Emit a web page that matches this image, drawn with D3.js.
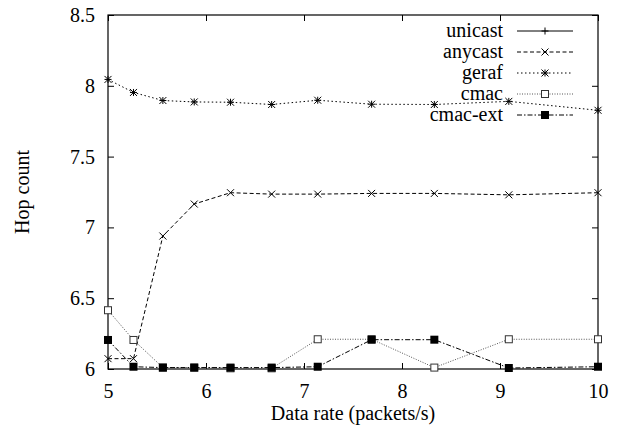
<!DOCTYPE html>
<html>
<head>
<meta charset="utf-8">
<script src="https://cdn.jsdelivr.net/npm/d3@7"></script>
<style>
  html, body { margin: 0; padding: 0; background: #fff; }
  svg { display: block; }
  text { font-family: "Liberation Serif", "Times New Roman", serif; fill: #000; }
</style>
</head>
<body>
<svg id="chart" width="623" height="434"></svg>
<script>
// ---- data ----
const rates = [5, 5.26, 5.56, 5.88, 6.25, 6.67, 7.14, 7.69, 8.33, 9.09, 10];
const unicast = [];  // not visible inside plotted range
const anycast = [6.073, 6.073, 6.939, 7.165, 7.245, 7.235, 7.235, 7.24, 7.24, 7.23, 7.245];
const geraf   = [8.045, 7.953, 7.896, 7.886, 7.884, 7.868, 7.898, 7.87, 7.868, 7.89, 7.827];
const cmac    = [6.415, 6.205, 6.01, 6.01, 6.005, 6.005, 6.21, 6.21, 6.01, 6.21, 6.21];
const cmacExt = [6.205, 6.016, 6.01, 6.01, 6.01, 6.01, 6.016, 6.207, 6.207, 6.007, 6.016];
const seriesNames = ["unicast", "anycast", "geraf", "cmac", "cmac-ext"];
const xTicks = [5, 6, 7, 8, 9, 10];
const yTicks = [6, 6.5, 7, 7.5, 8, 8.5];
const xLabel = "Data rate (packets/s)";
const yLabel = "Hop count";

// ---- layout ----
const svg = d3.select("#chart");
const L = 108, R = 598, T = 15, B = 369;
const x = d3.scaleLinear().domain([5, 10]).range([L, R]);
const y = d3.scaleLinear().domain([6, 8.5]).range([B, T]);

const styles = [
  { dash: null,        marker: "plus",   data: unicast },
  { dash: "4,2.5",     marker: "cross",  data: anycast },
  { dash: "1.5,2.5",   marker: "star",   data: geraf },
  { dash: "1,1.5",     marker: "square", data: cmac, color: "#555" },
  { dash: "5,2,1.5,2", marker: "fsquare",data: cmacExt }
];

// axes
const fs = "20px";
const gx = svg.append("g").attr("transform", `translate(0,${B})`)
  .call(d3.axisBottom(x).tickValues(xTicks).tickFormat(d3.format("d")).tickSizeInner(-6).tickSizeOuter(0).tickPadding(15));
const gxTop = svg.append("g").attr("transform", `translate(0,${T})`)
  .call(d3.axisTop(x).tickValues(xTicks).tickFormat("").tickSizeInner(-6).tickSizeOuter(0));
const gy = svg.append("g").attr("transform", `translate(${L},0)`)
  .call(d3.axisLeft(y).tickValues(yTicks).tickFormat(d => d3.format("")(d)).tickSizeInner(-6).tickSizeOuter(0).tickPadding(13));
const gyR = svg.append("g").attr("transform", `translate(${R},0)`)
  .call(d3.axisRight(y).tickValues(yTicks).tickFormat("").tickSizeInner(-6).tickSizeOuter(0));
[gx, gxTop, gy, gyR].forEach(g => {
  g.select(".domain").remove();
  g.selectAll("line").attr("stroke", "#000").attr("stroke-width", 1);
  g.selectAll("text").style("font-family", '"Liberation Serif", serif').style("font-size", fs).attr("fill", "#000");
});

// border
svg.append("rect").attr("x", L).attr("y", T).attr("width", R - L).attr("height", B - T)
  .attr("fill", "none").attr("stroke", "#000").attr("stroke-width", 1.2);

// labels
svg.append("text").attr("x", (L + R) / 2).attr("y", 420).attr("text-anchor", "middle")
  .style("font-size", fs).text(xLabel);
svg.append("text").attr("transform", "translate(29,192) rotate(-90)").attr("text-anchor", "middle")
  .style("font-size", fs).text(yLabel);

// markers
function drawMarker(g, type, cx, cy, color) {
  const s = 3.5;
  const seg = (x1, y1, x2, y2) => g.append("line").attr("x1", x1).attr("y1", y1).attr("x2", x2).attr("y2", y2)
    .attr("stroke", color).attr("stroke-width", 1);
  if (type === "plus" || type === "star") { seg(cx - s, cy, cx + s, cy); seg(cx, cy - s, cx, cy + s); }
  if (type === "cross" || type === "star") { seg(cx - s, cy - s, cx + s, cy + s); seg(cx - s, cy + s, cx + s, cy - s); }
  if (type === "square") g.append("rect").attr("x", cx - 3.5).attr("y", cy - 3.5).attr("width", 7).attr("height", 7)
    .attr("fill", "#fff").attr("stroke", color).attr("stroke-width", 1);
  if (type === "fsquare") g.append("rect").attr("x", cx - 4).attr("y", cy - 4).attr("width", 8).attr("height", 8)
    .attr("fill", "#000");
}

const line = d3.line().x((d, i) => x(rates[i])).y(d => y(d));
styles.forEach(s => {
  const color = s.color || "#000";
  const g = svg.append("g");
  if (s.data.length) {
    g.append("path").datum(s.data).attr("d", line).attr("fill", "none")
      .attr("stroke", color).attr("stroke-width", 1).attr("stroke-dasharray", s.dash);
    s.data.forEach((v, i) => drawMarker(g, s.marker, x(rates[i]), y(v), s.marker === "square" ? "#333" : color));
  }
});

// legend
const rowY = [31, 52, 73, 94, 115];
seriesNames.forEach((name, i) => {
  const s = styles[i];
  const color = s.color || "#000";
  const ly = rowY[i];
  svg.append("text").attr("x", 503).attr("y", ly + 6).attr("text-anchor", "end").style("font-size", fs).text(name);
  const g = svg.append("g");
  g.append("line").attr("x1", 517).attr("x2", 573).attr("y1", ly).attr("y2", ly)
    .attr("stroke", color).attr("stroke-width", 1).attr("stroke-dasharray", s.dash);
  drawMarker(g, s.marker, 545, ly, s.marker === "square" ? "#333" : color);
});
</script>
</body>
</html>
